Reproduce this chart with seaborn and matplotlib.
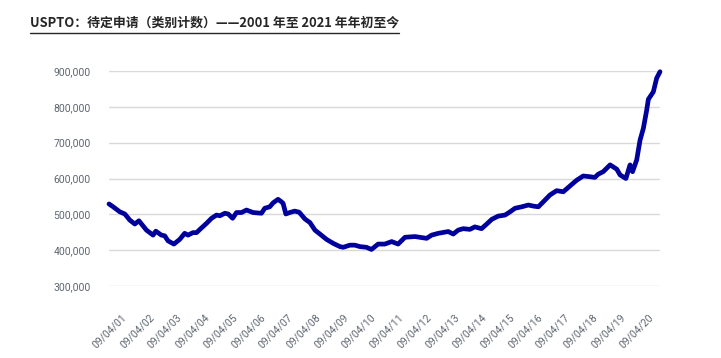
import numpy as np
import pandas as pd
import matplotlib
matplotlib.use("Agg")
import matplotlib.pyplot as plt
from matplotlib.lines import Line2D
from matplotlib.ticker import FuncFormatter
import seaborn as sns

# ---- data ----
years = [2001.18, 2001.33, 2001.57, 2001.75, 2001.93, 2002.11, 2002.26, 2002.53, 2002.77, 2002.87,
         2003.07, 2003.19, 2003.31, 2003.52, 2003.73, 2003.91, 2004.03, 2004.21, 2004.34, 2004.46,
         2004.70, 2004.88, 2005.06, 2005.18, 2005.36, 2005.48, 2005.64, 2005.78, 2005.96, 2006.14,
         2006.38, 2006.68, 2006.80, 2006.98, 2007.10, 2007.28, 2007.40, 2007.46, 2007.56, 2007.70,
         2007.88, 2008.04, 2008.25, 2008.43, 2008.61, 2008.79, 2009.03, 2009.27, 2009.51, 2009.63,
         2009.87, 2010.05, 2010.23, 2010.47, 2010.65, 2010.89, 2011.13, 2011.38, 2011.61, 2011.86,
         2012.22, 2012.64, 2012.82, 2013.06, 2013.42, 2013.60, 2013.78, 2013.96, 2014.20, 2014.38,
         2014.62, 2014.81, 2014.99, 2015.22, 2015.47, 2015.65, 2015.83, 2016.07, 2016.31, 2016.49,
         2016.67, 2016.85, 2017.09, 2017.33, 2017.57, 2017.75, 2018.05, 2018.29, 2018.53, 2018.71,
         2018.83, 2019.01, 2019.26, 2019.50, 2019.62, 2019.83, 2019.98, 2020.07, 2020.22, 2020.34,
         2020.46, 2020.58, 2020.64, 2020.82, 2020.94, 2021.06]
pending = [529, 521, 507, 501, 484, 473, 482, 456, 442, 453,
           442, 440, 426, 417, 430, 447, 442, 449, 449, 458,
           475, 489, 498, 496, 503, 501, 489, 505, 505, 512,
           505, 503, 517, 521, 532, 542, 535, 531, 501, 505,
           509, 506, 487, 477, 456, 445, 430, 419, 410, 408,
           414, 414, 410, 408, 402, 417, 417, 424, 417, 436,
           438, 433, 442, 447, 452, 445, 456, 460, 458, 465,
           460, 473, 486, 495, 498, 507, 517, 521, 526, 523,
           521, 535, 554, 566, 563, 575, 595, 607, 605, 603,
           612, 619, 638, 626, 610, 600, 638, 619, 652, 707,
           740, 791, 821, 842, 880, 898]
pending = [v * 1000 for v in pending]

tick_labels = ["09/04/%02d" % i for i in range(1, 21)]
tick_years = [2001.62 + i for i in range(20)]
y_ticks = [300000, 400000, 500000, 600000, 700000, 800000, 900000]

title = "USPTO：待定申请（类别计数）——2001 年至 2021 年年初至今"

# ---- style ----
sns.set_theme(style="white")
plt.rcParams["font.family"] = ["Roboto", "Noto Sans CJK SC", "DejaVu Sans"]

df = pd.DataFrame({"year": years, "pending": pending})

fig = plt.figure(figsize=(7.21, 3.58), dpi=100)
ax = fig.add_axes([109 / 721, (358 - 286) / 358, (660 - 109) / 721, 215 / 358])

sns.lineplot(data=df, x="year", y="pending", ax=ax, color="#00009c",
             linewidth=3.4, solid_capstyle="round", solid_joinstyle="round")
for ln in ax.lines:
    ln.set_clip_on(False)

ax.set_xlim(years[0], years[-1])
ax.set_ylim(300000, 900000)
ax.set_yticks(y_ticks)
ax.yaxis.set_major_formatter(FuncFormatter(lambda v, p: f"{int(v):,}"))
ax.set_xticks(tick_years)
ax.set_xticklabels(tick_labels, rotation=45, ha="right", rotation_mode="anchor")
ax.grid(axis="y", color="#d9d9d9", linewidth=1)
ax.grid(axis="x", visible=False)
ax.set_axisbelow(True)
for s in ax.spines.values():
    s.set_visible(False)
ax.tick_params(axis="y", length=0, pad=13, labelsize=7.5, labelcolor="#5f6670")
ax.tick_params(axis="x", length=0, pad=19, labelsize=7.5, labelcolor="#5f6670")
ax.set_xlabel("")
ax.set_ylabel("")

t = fig.text(30 / 721, 1 - 27 / 358, title, fontsize=9.3, fontweight="bold",
             color="#262626", ha="left", va="baseline",
             family=["Noto Sans CJK SC", "DejaVu Sans"])

fig.canvas.draw()
bb = t.get_window_extent(renderer=fig.canvas.get_renderer())
inv = fig.transFigure.inverted()
(x0, y0), (x1, y1) = inv.transform([(bb.x0, bb.y0), (bb.x1, bb.y1)])
yl = 1 - 33 / 358
fig.add_artist(Line2D([x0, x1], [yl, yl], transform=fig.transFigure,
                      color="#262626", linewidth=1.0))

fig.savefig("out.png", dpi=100)
